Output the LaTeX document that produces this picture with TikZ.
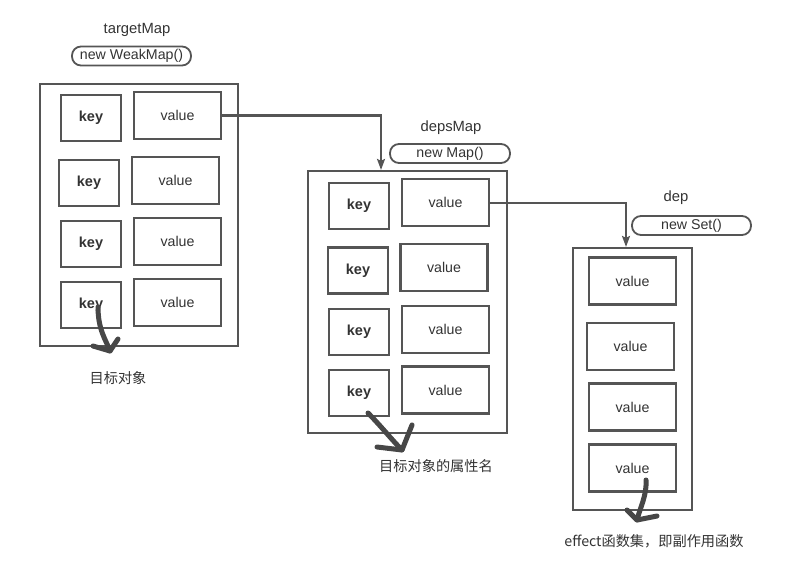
\documentclass[tikz,border=0pt]{standalone}
\usepackage{fontspec}
\setmainfont{Liberation Sans}
\newfontfamily\cjk{Noto Sans CJK SC}
\usetikzlibrary{arrows.meta}
\definecolor{linegray}{HTML}{555555}
\definecolor{textgray}{HTML}{333333}
\definecolor{handgray}{HTML}{474747}
\tikzset{
  frame/.style={draw=linegray, line width=2.2pt, minimum height=262pt, inner sep=0pt},
  keycell/.style={draw=linegray, line width=2.2pt, minimum width=60pt, minimum height=46pt,
    inner sep=0pt, text=textgray, font=\bfseries\fontsize{14.5}{16}\selectfont},
  valcell/.style={draw=linegray, line width=2.2pt, minimum width=87pt, minimum height=47pt,
    inner sep=0pt, text=textgray, font=\fontsize{14.2}{16}\selectfont},
  pill/.style={draw=linegray, line width=1.8pt, rounded corners=9pt, minimum width=119pt,
    minimum height=19pt, inner sep=0pt, text=textgray, font=\fontsize{14.2}{16}\selectfont},
  title/.style={text=textgray, font=\fontsize{14.8}{16}\selectfont},
  caption/.style={text=textgray, font=\cjk\fontsize{14.2}{16}\selectfont},
  link/.style={draw=linegray, line width=2pt, -{Stealth[length=11pt,width=8pt,inset=2pt]}},
  hand/.style={draw=handgray, line width=5pt, line cap=round, line join=round}
}
\begin{document}
\begin{tikzpicture}[x=1pt,y=-1pt]
\useasboundingbox (0,0) rectangle (786,567);
% targetMap
\node[title] (tname) at (137,30) {targetMap};
\node[pill] (tnew) at (131.5,56) {new WeakMap()};
\node[frame, minimum width=198pt] (tgt) at (139,215) {};
\node[keycell] (tk1) at (91,118) {key};
\node[valcell] (tv1) at (177.5,115.5) {value};
\node[keycell] (tk2) at (89,183) {key};
\node[valcell] (tv2) at (175.5,180.5) {value};
\node[keycell] (tk3) at (91,244) {key};
\node[valcell] (tv3) at (177.5,241.5) {value};
\node[keycell] (tk4) at (91,305) {key};
\node[valcell] (tv4) at (177.5,302.5) {value};
\node[caption] (tcap) at (118,378) {目标对象};
% depsMap
\node[title] (dname) at (451,128) {depsMap};
\node[pill, minimum width=120pt] (dnew) at (450,153.5) {new Map()};
\node[frame, minimum width=199pt] (deps) at (407.5,302) {};
\node[keycell] (dk1) at (359,206) {key};
\node[valcell] (dv1) at (445.5,202.5) {value};
\node[keycell] (dk2) at (358,270.5) {key};
\node[valcell] (dv2) at (444,267.5) {value};
\node[keycell] (dk3) at (359,332) {key};
\node[valcell] (dv3) at (445.5,329.5) {value};
\node[keycell] (dk4) at (359,393) {key};
\node[valcell] (dv4) at (445.5,390) {value};
\node[caption] (dcap) at (436,466) {目标对象的属性名};
% dep
\node[title] (sname) at (676,198) {dep};
\node[pill] (snew) at (691.5,225.5) {new Set()};
\node[frame, minimum width=119pt] (dep) at (632.5,379) {};
\node[valcell] (sv1) at (632.5,281) {value};
\node[valcell] (sv2) at (630.5,346.5) {value};
\node[valcell] (sv3) at (632.5,407) {value};
\node[valcell] (sv4) at (632.5,468) {value};
\node[caption] (scap) at (654,541) {effect函数集，即副作用函数};
% links
\draw[link] (tv1.east) -| ([xshift=-26.5pt]deps.north);
\draw[link] (dv1.east) -| ([xshift=-6.5pt]dep.north);
% hand drawn arrows
\coordinate (h1a) at (98,307);
\coordinate (h1b) at (110,351);
\draw[hand] (h1a) .. controls (98,330) and (106,340) .. (h1b);
\draw[hand] (93,346) -- (h1b) -- (118,339);
\coordinate (h2a) at (368,413);
\coordinate (h2b) at (402,450);
\draw[hand] (h2a) .. controls (380,425) and (392,440) .. (h2b);
\draw[hand] (377,447) -- (h2b) -- (412,425);
\coordinate (h3a) at (646,480);
\coordinate (h3b) at (637,520);
\draw[hand] (h3a) .. controls (647,495) and (640,508) .. (h3b);
\draw[hand] (627,510) -- (h3b) -- (657,516);
\end{tikzpicture}
\end{document}
